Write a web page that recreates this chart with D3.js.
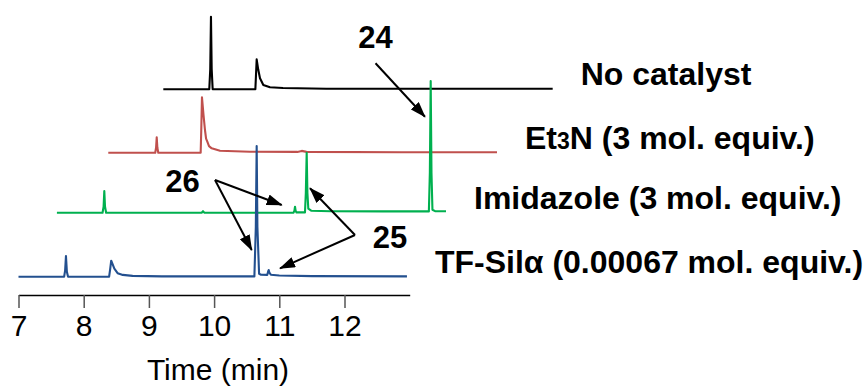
<!DOCTYPE html>
<html>
<head>
<meta charset="utf-8">
<script src="https://cdn.jsdelivr.net/npm/d3@7"></script>
<style>
  html, body { margin: 0; padding: 0; background: #fff; }
  svg { display: block; font-family: "Liberation Sans", Arial, Helvetica, sans-serif; }
</style>
</head>
<body>
<svg id="chart" width="865" height="387"></svg>
<script>
// Chromatogram traces: [retention time (min), detector response (a.u.)]
const traceNames = ["TF-Silα", "Imidazole", "Et3N", "No catalyst"];
const traceColors = ["#23508f", "#00b04f", "#c0504d", "#000000"];

const tfSil = [
  [7.00, 0], [7.70, 0], [7.715, 6], [7.728, 20.7], [7.742, 5], [7.76, 0],
  [8.39, 0], [8.405, 7], [8.422, 16], [8.44, 13], [8.47, 8], [8.52, 3.5], [8.60, 1.8], [8.75, 0.8], [9.20, 0.3],
  [10.618, 0.3], [10.640, 50], [10.653, 130.7], [10.664, 50], [10.69, 3], [10.72, 2],
  [10.815, 1.8], [10.828, 5], [10.837, 6.7], [10.848, 4], [10.87, 2], [11.0, 1.2], [11.5, 0.6], [12.958, 0.3]
];
const imidazole = [
  [7.00, 0], [7.70, 0], [7.716, 6], [7.727, 21.7], [7.738, 6], [7.755, 0],
  [9.22, 0], [9.241, 1.5], [9.26, 0],
  [10.63, 0], [10.643, 2], [10.652, 6], [10.661, 2], [10.675, 0.3],
  [10.805, 0.3], [10.818, 20], [10.831, 60], [10.842, 20], [10.856, 4], [10.90, 2], [11.2, 1.5], [12.0, 1.3],
  [12.705, 1.3], [12.72, 40], [12.733, 131.7], [12.745, 40], [12.76, 3], [12.80, 1.6], [12.968, 1.4]
];
const et3n = [
  [7.00, 0], [7.72, 0], [7.733, 5], [7.743, 15.4], [7.753, 5], [7.767, 0],
  [8.417, 0], [8.427, 25], [8.437, 55.4], [8.46, 38], [8.483, 22.7], [8.50, 14], [8.519, 11], [8.545, 6.5],
  [8.586, 4.4], [8.713, 2], [9.173, 1], [9.90, 0.8], [9.967, 1.8], [10.04, 0.8], [11.5, 0.5], [12.962, 0.5]
];
const noCatalyst = [
  [7.00, 0], [7.705, 0], [7.72, 20], [7.731, 72.6], [7.742, 20], [7.757, 0],
  [8.412, 0], [8.42, 12], [8.432, 30], [8.455, 20], [8.483, 11], [8.534, 4.3], [8.636, 2], [8.836, 1.3],
  [9.50, 0.6], [12.972, 0.6]
];
const traces = [tfSil, imidazole, et3n, noCatalyst];

// Waterfall stacking: time shift (min) and response shift (a.u.) per trace
const shiftTime = [0, 0.589, 1.377, 2.221];
const shiftResp = [0, 64, 124, 187.4];

const legendLabels = [
  "TF-Silα (0.00067 mol. equiv.)",
  "Imidazole (3 mol. equiv.)",
  "Et₃N (3 mol. equiv.)",
  "No catalyst"
];

const tickValues = [7, 8, 9, 10, 11, 12];
const axisTitle = "Time (min)";

// Compound annotations: label, label anchor, arrow origin, arrow tips (time, response)
const annotations = [
  { label: "24", at: [12.476, 228.4], from: [12.476, 213.4], tips: [[13.234, 160]] },
  { label: "26", at: [9.515, 85], from: [10.014, 96.7], tips: [[11.037, 71.7], [10.577, 26.7]] },
  { label: "25", at: [12.698, 28.4], from: [12.161, 41.7], tips: [[11.471, 88.4], [11.011, 8.4]] }
];

const svg = d3.select("#chart");

const x = d3.scaleLinear().domain([7, 13]).range([18.5, 409.7]);
const y = d3.scaleLinear().domain([0, 280]).range([276.7, -3.3]);

// arrowhead
svg.append("defs").append("marker")
  .attr("id", "arrowhead")
  .attr("viewBox", "0 0 16 11")
  .attr("refX", 15).attr("refY", 5.5)
  .attr("markerWidth", 16).attr("markerHeight", 11)
  .attr("markerUnits", "userSpaceOnUse")
  .attr("orient", "auto")
  .append("path")
  .attr("d", "M0,0 L16,5.5 L0,11 Z")
  .attr("fill", "#000");

// traces, drawn from the top of the stack down so lower traces sit on top
const order = [3, 2, 1, 0];
order.forEach(i => {
  const line = d3.line()
    .x(d => x(d[0] + shiftTime[i]))
    .y(d => y(d[1] + shiftResp[i]));
  svg.append("path")
    .datum(traces[i])
    .attr("d", line)
    .attr("fill", "none")
    .attr("stroke", traceColors[i])
    .attr("stroke-width", 2.1)
    .attr("stroke-linejoin", "round");
});

// trace labels placed just past the end of each trace
traces.forEach((tr, i) => {
  const last = tr[tr.length - 1];
  const tx = x(last[0] + shiftTime[i]) + 28;
  const ty = y(shiftResp[i]) - 4;
  const t = svg.append("text")
    .attr("x", tx).attr("y", ty)
    .attr("font-size", 32)
    .attr("font-weight", "bold")
    .attr("fill", "#000");
  const lab = legendLabels[i];
  if (lab.indexOf("₃") >= 0) {
    const parts = lab.split("₃");
    t.append("tspan").text(parts[0]);
    t.append("tspan").attr("font-size", 23).text("3");
    t.append("tspan").text(parts[1]);
  } else {
    t.text(lab);
  }
});

// annotations
annotations.forEach(a => {
  svg.append("text")
    .attr("x", x(a.at[0])).attr("y", y(a.at[1]))
    .attr("text-anchor", "middle")
    .attr("font-size", 31)
    .attr("font-weight", "bold")
    .text(a.label);
  a.tips.forEach(tp => {
    svg.append("line")
      .attr("x1", x(a.from[0])).attr("y1", y(a.from[1]))
      .attr("x2", x(tp[0])).attr("y2", y(tp[1]))
      .attr("stroke", "#000")
      .attr("stroke-width", 2)
      .attr("marker-end", "url(#arrowhead)");
  });
});

// time axis
const axisG = svg.append("g")
  .attr("transform", "translate(0,295)")
  .call(d3.axisBottom(x).tickValues(tickValues).tickFormat(d3.format("d"))
    .tickSize(13).tickSizeOuter(0).tickPadding(7));
axisG.select(".domain").attr("stroke", "#000").attr("stroke-width", 1.5);
axisG.selectAll(".tick line").attr("stroke", "#555").attr("stroke-width", 1.5);
axisG.selectAll(".tick text")
  .attr("font-size", 30)
  .attr("font-family", "\"Liberation Sans\", Arial, sans-serif")
  .attr("fill", "#000");

svg.append("text")
  .attr("x", 218).attr("y", 380)
  .attr("text-anchor", "middle")
  .attr("font-size", 30)
  .attr("fill", "#000")
  .text(axisTitle);
</script>
</body>
</html>
